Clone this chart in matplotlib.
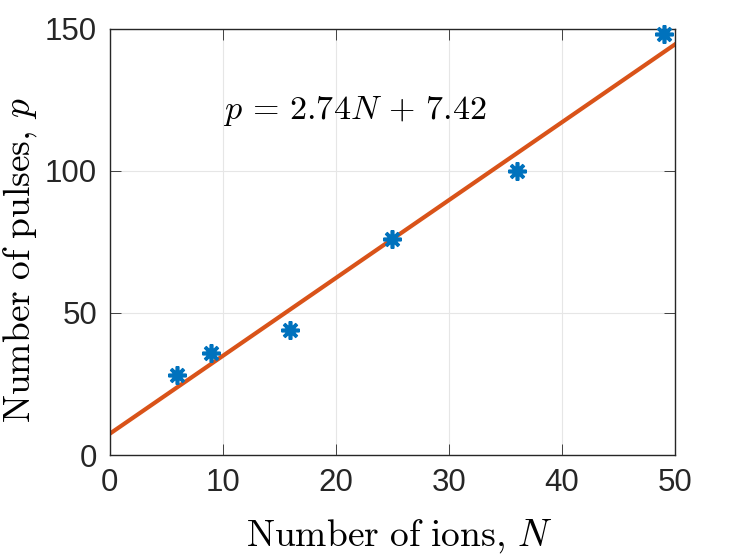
import numpy as np
import matplotlib
matplotlib.use('Agg')
import matplotlib.pyplot as plt

ions = [6, 9, 16, 25, 36, 49]
pulses = [28, 36, 44, 76, 100, 148]
slope = 2.74
intercept = 7.42

plt.rcParams['mathtext.fontset'] = 'cm'
plt.rcParams['font.family'] = ['Liberation Sans', 'DejaVu Sans']

fig = plt.figure(figsize=(7.47, 5.59), dpi=100)
ax = fig.add_axes([0.1466, 0.186, 0.757, 0.763])

n_fit = np.array([0, 50])
ax.plot(n_fit, slope * n_fit + intercept, color='#D95319', linewidth=3, zorder=2)
ax.plot(ions, pulses, linestyle='none', marker=(8, 2, 0), markersize=13,
        markeredgewidth=2.6, color='#0072BD', zorder=3, clip_on=False)

ax.set_xlim(0, 50)
ax.set_ylim(0, 150)
ax.set_xticks(np.arange(0, 51, 10))
ax.set_yticks([0, 50, 100, 150])
ax.grid(True, color='#e6e6e6', linewidth=0.8)
ax.set_axisbelow(True)
for s in ax.spines.values():
    s.set_color('#262626')
    s.set_linewidth(1)
ax.tick_params(direction='in', length=8, width=0.6, colors='#262626',
               labelsize=22.5, pad=9, top=True, right=True)

ax.set_xlabel(r'$\mathrm{Number\ of\ ions,}\,N$', fontsize=27)
ax.xaxis.set_label_coords(0.513, -0.145)
ax.set_ylabel(r'$\mathrm{Number\ of\ pulses,}\,p$', fontsize=27)
ax.yaxis.set_label_coords(-0.124, 0.457)
ax.text(10, 121, r'$p\,=\,2.74N\,+\,7.42$', fontsize=24.5, va='center')

fig.savefig('out.png', dpi=100)
